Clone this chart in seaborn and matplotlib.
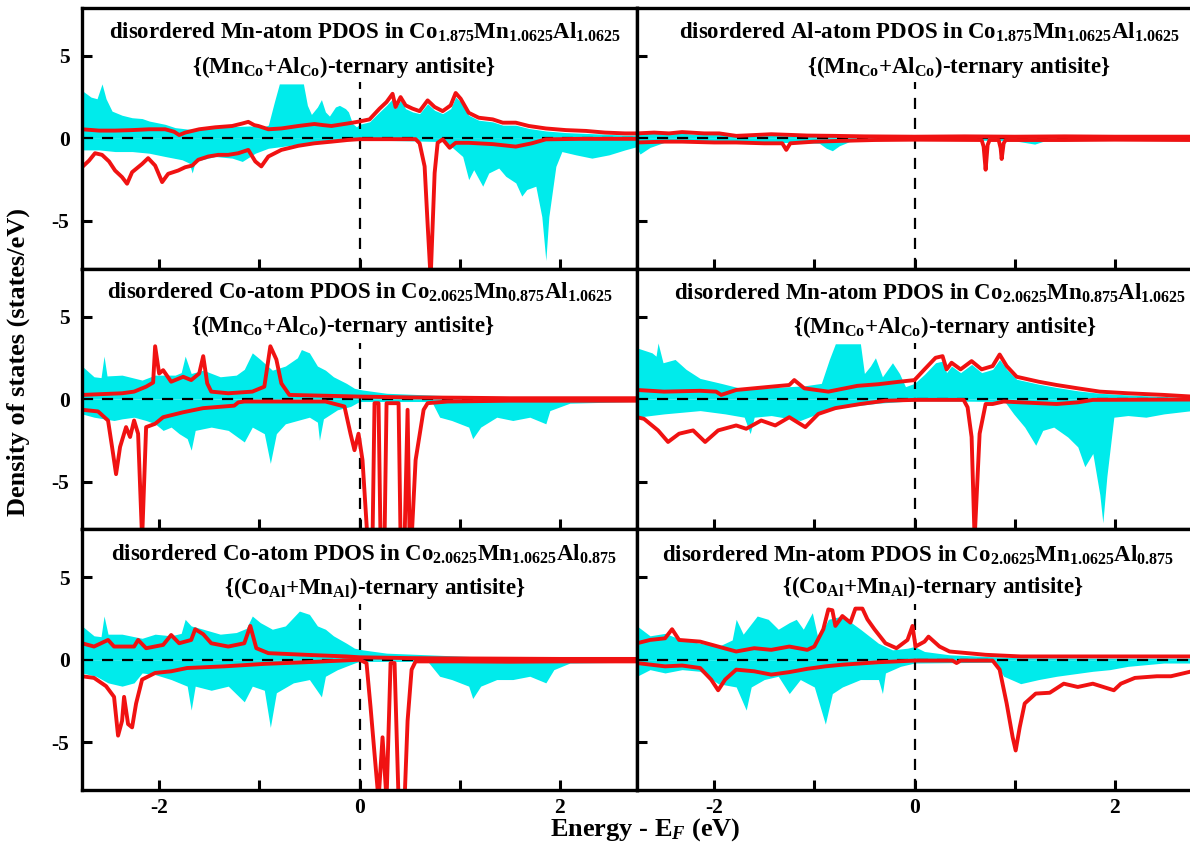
import numpy as np
import pandas as pd
import matplotlib
matplotlib.use("Agg")
import matplotlib.pyplot as plt
import seaborn as sns

# ---------------- data (energy eV, DOS states/eV) ----------------
# Panel A: Mn-atom in Co1.875Mn1.0625Al1.0625
A_cyan_up = [(-2.77,2.9),(-2.68,2.5),(-2.62,2.4),(-2.57,3.3),(-2.53,2.4),(-2.47,1.65),(-2.37,1.4),(-2.27,1.25),(-2.17,1.2),(-2.10,1.05),(-1.94,0.85),(-1.84,0.65),(-1.7,0.55),(-1.5,0.6),(-1.3,0.7),(-1.1,0.75),(-0.95,0.7),(-0.91,0.8),(-0.85,2.2),(-0.8,3.3),(-0.56,3.3),(-0.52,2.0),(-0.48,1.45),(-0.42,1.9),(-0.38,2.35),(-0.34,1.6),(-0.3,1.35),(-0.24,1.9),(-0.2,2.0),(-0.14,1.8),(-0.11,1.6),(-0.07,0.9),(-0.03,0.7),(0.0,0.85),(0.1,1.0),(0.2,1.6),(0.27,2.0),(0.33,2.4),(0.36,1.8),(0.41,2.3),(0.46,1.8),(0.53,1.6),(0.6,1.5),(0.68,2.1),(0.75,1.7),(0.83,1.5),(0.91,1.8),(0.96,2.5),(1.01,2.2),(1.09,1.4),(1.19,1.1),(1.33,1.0),(1.43,0.8),(1.56,0.8),(1.69,0.6),(1.86,0.45),(2.06,0.35),(2.26,0.3),(2.45,0.25),(2.65,0.2),(2.77,0.2)]
A_cyan_dn = [(-2.77,-0.7),(-2.6,-0.7),(-2.44,-0.8),(-2.27,-0.8),(-2.1,-0.9),(-1.94,-1.1),(-1.77,-1.3),(-1.7,-1.5),(-1.67,-2.1),(-1.64,-1.4),(-1.44,-1.1),(-1.27,-1.2),(-1.17,-1.4),(-1.04,-0.9),(-0.91,-0.6),(-0.78,-0.5),(-0.61,-0.35),(-0.45,-0.28),(-0.2,-0.1),(0.0,-0.1),(0.5,-0.15),(0.85,-0.2),(0.93,-0.57),(1.03,-1.1),(1.09,-2.5),(1.14,-1.9),(1.23,-2.9),(1.29,-2.1),(1.39,-1.8),(1.46,-2.3),(1.56,-2.7),(1.62,-3.5),(1.67,-3.1),(1.76,-2.9),(1.82,-4.75),(1.86,-7.4),(1.89,-4.75),(1.96,-1.7),(2.02,-0.8),(2.16,-1.0),(2.32,-1.2),(2.49,-1.0),(2.65,-0.7),(2.77,-0.5)]
A_red_up = [(-2.77,0.55),(-2.6,0.47),(-2.44,0.47),(-2.27,0.5),(-2.1,0.55),(-1.94,0.55),(-1.85,0.4),(-1.8,0.2),(-1.74,0.35),(-1.6,0.55),(-1.44,0.67),(-1.27,0.75),(-1.17,0.9),(-1.11,1.0),(-1.05,0.8),(-1.01,0.75),(-0.91,0.55),(-0.78,0.6),(-0.61,0.75),(-0.45,0.87),(-0.36,0.8),(-0.28,0.75),(-0.12,0.9),(-0.02,1.0),(0.1,1.15),(0.2,1.8),(0.27,2.2),(0.33,2.7),(0.36,1.9),(0.41,2.5),(0.46,2.0),(0.53,1.8),(0.6,1.65),(0.68,2.3),(0.75,1.9),(0.83,1.65),(0.91,2.0),(0.96,2.75),(1.01,2.4),(1.09,1.55),(1.19,1.25),(1.33,1.15),(1.43,0.95),(1.56,0.95),(1.69,0.75),(1.86,0.6),(2.06,0.5),(2.26,0.45),(2.45,0.35),(2.65,0.3),(2.77,0.3)]
A_red_dn = [(-2.77,-1.75),(-2.70,-1.35),(-2.64,-0.9),(-2.57,-1.0),(-2.50,-1.4),(-2.44,-1.95),(-2.37,-2.35),(-2.32,-2.75),(-2.27,-2.05),(-2.17,-1.55),(-2.11,-1.2),(-2.04,-1.65),(-1.97,-2.65),(-1.91,-2.15),(-1.81,-1.95),(-1.74,-1.75),(-1.67,-1.65),(-1.61,-1.3),(-1.51,-1.1),(-1.41,-1.0),(-1.31,-1.0),(-1.21,-0.9),(-1.11,-0.7),(-1.04,-1.4),(-0.98,-1.7),(-0.91,-1.1),(-0.78,-0.7),(-0.61,-0.45),(-0.45,-0.3),(-0.28,-0.2),(-0.12,-0.1),(0.0,-0.05),(0.56,-0.05),(0.6,-0.3),(0.65,-1.7),(0.68,-5.2),(0.71,-8.5),(0.75,-2.1),(0.78,-0.27),(0.83,-0.06),(0.9,-0.57),(0.96,-0.27),(1.09,-0.27),(1.33,-0.35),(1.56,-0.5),(1.72,-0.3),(1.86,-0.06),(2.2,-0.03),(2.77,-0.03)]

# Panel B: Al-atom in Co1.875Mn1.0625Al1.0625
B_cyan_up = [(-2.77,0.35),(-2.6,0.3),(-2.4,0.35),(-2.2,0.25),(-2.0,0.3),(-1.8,0.2),(-1.5,0.2),(-1.2,0.15),(-0.9,0.15),(-0.6,0.15),(-0.3,0.12),(0.0,0.1),(0.5,0.1),(1.0,0.12),(1.5,0.12),(2.0,0.1),(2.5,0.12),(2.77,0.15)]
B_cyan_dn = [(-2.77,-0.6),(-2.74,-0.95),(-2.64,-0.55),(-2.5,-0.25),(-2.2,-0.2),(-1.9,-0.2),(-1.5,-0.25),(-1.2,-0.25),(-0.95,-0.3),(-0.88,-0.6),(-0.82,-0.75),(-0.75,-0.45),(-0.65,-0.2),(-0.3,-0.12),(0.0,-0.1),(0.5,-0.1),(1.0,-0.15),(1.2,-0.35),(1.3,-0.15),(2.0,-0.12),(2.77,-0.15)]
B_red_up = [(-2.77,0.3),(-2.6,0.35),(-2.45,0.3),(-2.32,0.38),(-2.1,0.3),(-1.95,0.3),(-1.78,0.15),(-1.6,0.2),(-1.43,0.25),(-1.2,0.2),(-1.07,0.17),(-0.8,0.15),(-0.5,0.12),(0.0,0.1),(0.5,0.12),(1.0,0.1),(1.5,0.12),(2.0,0.1),(2.77,0.1)]
B_red_dn = [(-2.77,-0.25),(-2.5,-0.2),(-2.32,-0.2),(-2.0,-0.25),(-1.78,-0.25),(-1.5,-0.3),(-1.32,-0.3),(-1.28,-0.7),(-1.24,-0.3),(-1.0,-0.2),(-0.72,-0.15),(-0.4,-0.1),(0.0,-0.08),(0.67,-0.1),(0.69,-0.5),(0.71,-1.9),(0.73,-0.4),(0.75,-0.1),(0.84,-0.1),(0.86,-0.6),(0.87,-1.25),(0.89,-0.3),(0.91,-0.1),(1.5,-0.1),(2.0,-0.08),(2.77,-0.1)]

# Panel C: Co-atom in Co2.0625Mn0.875Al1.0625
C_cyan_up = [(-2.77,2.0),(-2.65,1.35),(-2.58,1.3),(-2.55,2.6),(-2.52,1.4),(-2.37,1.45),(-2.17,1.15),(-2.04,1.45),(-1.84,1.45),(-1.78,1.6),(-1.74,2.6),(-1.68,1.55),(-1.56,1.75),(-1.39,1.35),(-1.23,1.45),(-1.15,1.8),(-1.07,2.8),(-0.99,2.4),(-0.87,1.75),(-0.74,2.0),(-0.62,2.5),(-0.58,3.0),(-0.5,2.8),(-0.42,2.0),(-0.34,1.75),(-0.26,1.35),(-0.13,0.95),(-0.05,0.65),(0.03,0.55),(0.27,0.35),(0.68,0.25),(1.09,0.15),(1.6,0.1),(2.2,0.1),(2.77,0.1)]
C_cyan_dn = [(-2.77,-0.9),(-2.65,-1.1),(-2.45,-1.3),(-2.37,-1.2),(-2.25,-1.1),(-2.13,-1.3),(-2.04,-1.5),(-1.96,-1.9),(-1.88,-1.7),(-1.8,-2.1),(-1.72,-2.4),(-1.68,-3.1),(-1.64,-1.9),(-1.48,-1.7),(-1.31,-1.9),(-1.15,-2.6),(-1.07,-1.7),(-0.95,-2.1),(-0.89,-3.9),(-0.83,-2.1),(-0.74,-1.5),(-0.62,-1.3),(-0.5,-1.1),(-0.42,-1.4),(-0.4,-2.5),(-0.36,-1.2),(-0.22,-0.65),(-0.09,-0.45),(0.0,-0.15),(0.72,-0.15),(0.8,-1.1),(0.92,-1.3),(1.09,-1.7),(1.13,-2.4),(1.21,-1.7),(1.37,-1.1),(1.53,-1.3),(1.7,-1.1),(1.86,-1.5),(1.9,-0.7),(2.1,-0.25),(2.77,-0.15)]
C_red_up = [(-2.77,0.25),(-2.37,0.35),(-2.25,0.45),(-2.13,0.75),(-2.06,1.0),(-2.04,3.2),(-2.0,1.55),(-1.96,1.75),(-1.88,1.05),(-1.76,1.35),(-1.68,1.15),(-1.6,1.55),(-1.56,2.6),(-1.52,0.95),(-1.48,0.45),(-1.31,0.35),(-1.07,0.45),(-0.95,0.75),(-0.89,3.2),(-0.83,2.4),(-0.78,0.95),(-0.7,0.25),(-0.34,0.2),(0.0,0.15),(0.5,0.1),(1.0,0.08),(1.5,0.05),(2.0,0.05),(2.77,0.05)]
C_red_dn = [(-2.77,-0.65),(-2.61,-0.75),(-2.51,-1.3),(-2.47,-2.9),(-2.43,-4.55),(-2.39,-2.9),(-2.33,-1.7),(-2.29,-2.3),(-2.25,-1.3),(-2.21,-2.1),(-2.17,-8.5),(-2.13,-1.7),(-2.04,-1.5),(-1.96,-1.1),(-1.76,-0.8),(-1.56,-0.55),(-1.25,-0.4),(-1.21,-0.2),(-1.15,-0.15),(-0.34,-0.15),(-0.15,-0.45),(-0.09,-2.1),(-0.05,-3.1),(-0.01,-2.1),(0.03,-3.7),(0.08,-8.5),(0.13,-8.5),(0.15,-0.25),(0.19,-0.25),(0.21,-8.5),(0.25,-8.5),(0.27,-0.25),(0.39,-0.25),(0.41,-8.5),(0.45,-8.5),(0.48,-0.65),(0.5,-8.5),(0.52,-8.5),(0.56,-3.7),(0.64,-0.65),(0.68,-0.25),(0.88,-0.15),(1.5,-0.1),(2.0,-0.1),(2.77,-0.1)]

# Panel D: Mn-atom in Co2.0625Mn0.875Al1.0625
D_cyan_up = [(-2.77,3.1),(-2.62,2.8),(-2.58,2.6),(-2.56,3.4),(-2.51,2.2),(-2.39,2.4),(-2.28,1.8),(-2.14,1.25),(-1.93,0.95),(-1.7,0.6),(-1.4,0.7),(-1.1,0.8),(-0.93,0.95),(-0.85,2.4),(-0.79,3.35),(-0.54,3.35),(-0.5,1.55),(-0.44,2.0),(-0.39,2.5),(-0.32,1.35),(-0.22,2.2),(-0.15,1.55),(-0.09,0.75),(0.0,0.95),(0.1,1.5),(0.21,2.2),(0.28,2.3),(0.32,1.6),(0.37,2.0),(0.46,1.6),(0.57,2.1),(0.67,1.6),(0.78,1.8),(0.85,2.4),(0.92,1.8),(1.02,1.2),(1.24,0.9),(1.42,0.7),(1.63,0.5),(1.85,0.35),(2.13,0.25),(2.49,0.15),(2.77,0.1)]
D_cyan_dn = [(-2.77,-1.1),(-2.5,-0.9),(-2.14,-0.7),(-1.89,-0.9),(-1.7,-1.1),(-1.64,-2.1),(-1.6,-1.1),(-1.43,-1.0),(-1.14,-1.3),(-0.93,-0.8),(-0.72,-0.5),(-0.36,-0.25),(0.0,-0.1),(0.9,-0.15),(0.99,-0.9),(1.1,-1.7),(1.21,-2.8),(1.28,-1.9),(1.39,-1.7),(1.53,-2.3),(1.63,-2.9),(1.7,-4.1),(1.78,-3.3),(1.85,-5.8),(1.88,-7.5),(1.92,-4.7),(1.99,-1.1),(2.13,-1.0),(2.31,-1.1),(2.49,-0.9),(2.77,-0.7)]
D_red_up = [(-2.77,0.55),(-2.5,0.45),(-2.14,0.5),(-1.98,0.45),(-1.93,0.25),(-1.78,0.55),(-1.43,0.75),(-1.25,0.85),(-1.2,1.15),(-1.1,0.65),(-0.86,0.45),(-0.57,0.8),(-0.36,0.9),(-0.15,1.05),(0.0,1.15),(0.1,1.8),(0.21,2.5),(0.28,2.6),(0.32,1.8),(0.37,2.2),(0.46,1.8),(0.57,2.3),(0.67,1.8),(0.78,2.0),(0.85,2.7),(0.92,2.0),(1.02,1.35),(1.24,1.05),(1.42,0.85),(1.63,0.65),(1.85,0.45),(2.13,0.35),(2.49,0.25),(2.77,0.15)]
D_red_dn = [(-2.77,-1.1),(-2.7,-1.2),(-2.56,-1.9),(-2.46,-2.6),(-2.35,-2.1),(-2.21,-1.9),(-2.09,-2.6),(-1.96,-1.9),(-1.78,-1.6),(-1.68,-1.8),(-1.53,-1.3),(-1.39,-1.6),(-1.25,-1.1),(-1.09,-1.7),(-0.96,-0.9),(-0.79,-0.55),(-0.54,-0.3),(-0.29,-0.1),(0.0,-0.05),(0.49,-0.05),(0.53,-0.5),(0.57,-2.3),(0.6,-8.5),(0.65,-2.1),(0.71,-0.3),(0.78,-0.3),(0.89,-0.15),(1.06,-0.2),(1.42,-0.3),(1.63,-0.2),(1.78,-0.05),(2.77,-0.03)]

# Panel E: Co-atom in Co2.0625Mn1.0625Al0.875
E_cyan_up = [(-2.77,2.05),(-2.65,1.45),(-2.58,1.4),(-2.55,2.65),(-2.51,1.55),(-2.37,1.55),(-2.17,1.3),(-2.04,1.55),(-1.88,1.45),(-1.78,1.6),(-1.74,2.45),(-1.68,2.05),(-1.56,1.85),(-1.39,1.55),(-1.23,1.65),(-1.13,1.9),(-1.07,2.65),(-0.99,2.25),(-0.87,1.85),(-0.74,2.05),(-0.6,2.95),(-0.5,2.75),(-0.42,2.05),(-0.34,1.85),(-0.26,1.45),(-0.13,1.0),(-0.05,0.7),(0.03,0.6),(0.27,0.4),(0.68,0.3),(1.09,0.2),(1.6,0.12),(2.2,0.1),(2.77,0.1)]
E_cyan_dn = [(-2.77,-0.8),(-2.63,-1.0),(-2.51,-1.4),(-2.37,-1.6),(-2.25,-1.4),(-2.17,-0.8),(-2.04,-0.9),(-1.88,-1.2),(-1.72,-1.6),(-1.68,-3.05),(-1.64,-1.6),(-1.48,-1.85),(-1.31,-1.6),(-1.15,-2.55),(-1.07,-1.6),(-0.95,-1.85),(-0.89,-4.1),(-0.83,-2.0),(-0.66,-1.4),(-0.5,-1.2),(-0.38,-2.25),(-0.34,-1.0),(-0.22,-0.6),(-0.05,-0.2),(0.0,-0.1),(0.68,-0.1),(0.8,-1.0),(0.92,-1.2),(1.09,-1.6),(1.13,-2.35),(1.21,-1.6),(1.37,-1.2),(1.53,-1.2),(1.7,-1.0),(1.86,-1.4),(1.94,-0.6),(2.1,-0.2),(2.77,-0.15)]
E_red_up = [(-2.77,1.0),(-2.65,0.8),(-2.51,1.2),(-2.45,0.8),(-2.25,0.8),(-2.21,1.2),(-2.13,0.7),(-1.96,0.9),(-1.88,1.5),(-1.8,1.0),(-1.68,1.2),(-1.64,1.85),(-1.56,1.55),(-1.48,1.0),(-1.31,0.8),(-1.15,1.0),(-1.09,2.05),(-1.03,0.7),(-0.91,0.4),(-0.54,0.3),(-0.13,0.2),(0.0,0.15),(0.5,0.1),(1.0,0.08),(2.0,0.05),(2.77,0.05)]
E_red_dn = [(-2.77,-1.0),(-2.65,-1.1),(-2.53,-1.6),(-2.45,-2.25),(-2.41,-4.6),(-2.37,-3.7),(-2.35,-2.25),(-2.31,-3.9),(-2.27,-4.1),(-2.23,-2.65),(-2.17,-1.2),(-2.04,-0.8),(-1.88,-0.7),(-1.72,-0.5),(-1.35,-0.4),(-0.95,-0.25),(-0.54,-0.15),(0.0,0.0),(0.07,-0.2),(0.11,-2.85),(0.15,-5.7),(0.19,-8.5),(0.23,-4.7),(0.27,-8.5),(0.31,-0.2),(0.35,-0.2),(0.39,-8.5),(0.45,-8.5),(0.48,-3.7),(0.52,-0.6),(0.56,-0.1),(1.0,-0.1),(1.5,-0.12),(2.0,-0.1),(2.77,-0.1)]

# Panel F: Mn-atom in Co2.0625Mn1.0625Al0.875
F_cyan_up = [(-2.77,2.05),(-2.64,1.45),(-2.49,1.6),(-2.32,1.2),(-2.14,1.0),(-1.96,0.8),(-1.82,1.2),(-1.78,2.45),(-1.71,1.55),(-1.57,2.65),(-1.46,2.45),(-1.36,1.85),(-1.25,2.25),(-1.18,2.45),(-1.11,1.85),(-1.02,2.85),(-0.96,1.2),(-0.86,2.45),(-0.72,2.65),(-0.54,1.85),(-0.36,1.0),(-0.22,0.6),(-0.07,0.7),(0.0,0.8),(0.1,0.5),(0.35,0.3),(0.71,0.2),(1.06,0.12),(2.0,0.1),(2.77,0.1)]
F_cyan_dn = [(-2.77,-1.0),(-2.64,-0.6),(-2.49,-0.8),(-2.32,-0.6),(-2.14,-0.7),(-1.96,-1.45),(-1.78,-1.65),(-1.68,-3.05),(-1.63,-1.65),(-1.5,-1.2),(-1.36,-1.0),(-1.25,-2.05),(-1.14,-1.2),(-1.0,-1.65),(-0.89,-3.9),(-0.82,-2.05),(-0.72,-1.65),(-0.54,-1.2),(-0.36,-1.2),(-0.32,-2.05),(-0.29,-0.8),(-0.14,-0.4),(0.0,-0.2),(0.8,-0.15),(0.89,-1.0),(1.06,-1.45),(1.24,-1.2),(1.42,-1.0),(1.78,-0.7),(1.95,-0.6),(2.13,-0.4),(2.49,-0.2),(2.77,-0.2)]
F_red_up = [(-2.77,1.0),(-2.64,1.2),(-2.49,1.3),(-2.42,1.85),(-2.35,1.2),(-2.14,1.1),(-1.96,0.8),(-1.78,0.5),(-1.6,0.7),(-1.43,0.6),(-1.25,0.8),(-1.07,0.6),(-1.0,0.8),(-0.91,1.85),(-0.86,3.05),(-0.82,3.0),(-0.79,2.05),(-0.72,2.65),(-0.64,2.25),(-0.59,3.1),(-0.52,3.1),(-0.47,2.45),(-0.4,1.85),(-0.29,1.0),(-0.18,0.7),(-0.07,1.2),(-0.02,2.05),(0.01,0.8),(0.1,1.1),(0.14,1.4),(0.25,0.8),(0.35,0.5),(0.71,0.3),(1.06,0.2),(1.78,0.2),(2.77,0.2)]
F_red_dn = [(-2.77,-0.2),(-2.49,-0.4),(-2.32,-0.35),(-2.14,-0.5),(-2.03,-1.2),(-1.96,-1.85),(-1.89,-1.2),(-1.78,-0.6),(-1.6,-0.7),(-1.43,-0.9),(-1.25,-0.75),(-1.07,-0.55),(-0.89,-0.4),(-0.72,-0.3),(-0.36,-0.15),(0.0,-0.05),(0.38,-0.05),(0.42,-0.2),(0.46,-0.05),(0.78,-0.05),(0.85,-0.6),(0.92,-2.65),(0.98,-4.7),(1.01,-5.5),(1.05,-4.1),(1.1,-2.65),(1.21,-2.05),(1.35,-2.0),(1.49,-1.45),(1.63,-1.65),(1.78,-1.45),(1.99,-1.85),(2.06,-1.45),(2.2,-1.1),(2.42,-1.0),(2.56,-1.0),(2.77,-0.7)]

titles_line1 = [
    r"disordered Mn-atom PDOS in Co$_{1.875}$Mn$_{1.0625}$Al$_{1.0625}$",
    r"disordered Al-atom PDOS in Co$_{1.875}$Mn$_{1.0625}$Al$_{1.0625}$",
    r"disordered Co-atom PDOS in Co$_{2.0625}$Mn$_{0.875}$Al$_{1.0625}$",
    r"disordered Mn-atom PDOS in Co$_{2.0625}$Mn$_{0.875}$Al$_{1.0625}$",
    r"disordered Co-atom PDOS in Co$_{2.0625}$Mn$_{1.0625}$Al$_{0.875}$",
    r"disordered Mn-atom PDOS in Co$_{2.0625}$Mn$_{1.0625}$Al$_{0.875}$",
]
titles_line2 = [
    r"{(Mn$_{\rm Co}$+Al$_{\rm Co}$)-ternary antisite}",
    r"{(Mn$_{\rm Co}$+Al$_{\rm Co}$)-ternary antisite}",
    r"{(Mn$_{\rm Co}$+Al$_{\rm Co}$)-ternary antisite}",
    r"{(Mn$_{\rm Co}$+Al$_{\rm Co}$)-ternary antisite}",
    r"{(Co$_{\rm Al}$+Mn$_{\rm Al}$)-ternary antisite}",
    r"{(Co$_{\rm Al}$+Mn$_{\rm Al}$)-ternary antisite}",
]
x_ticks = [-2, -1, 0, 1, 2]
x_tick_labels = ["-2", "", "0", "", "2"]
y_ticks = [-5, 0, 5]
y_tick_labels = ["-5", "0", "5"]

panels = [
    (A_cyan_up, A_cyan_dn, A_red_up, A_red_dn),
    (B_cyan_up, B_cyan_dn, B_red_up, B_red_dn),
    (C_cyan_up, C_cyan_dn, C_red_up, C_red_dn),
    (D_cyan_up, D_cyan_dn, D_red_up, D_red_dn),
    (E_cyan_up, E_cyan_dn, E_red_up, E_red_dn),
    (F_cyan_up, F_cyan_dn, F_red_up, F_red_dn),
]

# ---------------- style ----------------
sns.set_style("ticks")
plt.rcParams["font.family"] = ["Liberation Serif", "DejaVu Serif"]
plt.rcParams["font.weight"] = "bold"
plt.rcParams["mathtext.fontset"] = "custom"
plt.rcParams["mathtext.rm"] = "Liberation Serif:bold"
plt.rcParams["mathtext.bf"] = "Liberation Serif:bold"
plt.rcParams["mathtext.it"] = "Liberation Serif:bold:italic"
plt.rcParams["mathtext.default"] = "rm"
plt.rcParams["axes.unicode_minus"] = False
plt.rcParams["text.color"] = "black"
plt.rcParams["axes.edgecolor"] = "black"
plt.rcParams["xtick.color"] = "black"
plt.rcParams["ytick.color"] = "black"

CYAN = "#00EBEB"
RED = "#F01212"
XLIM = (-2.77, 2.77)
YLIM = (-7.9, 7.9)
VTOP = 3.4

fig = plt.figure(figsize=(11.9, 8.59), dpi=100)
W, H = 1190.0, 859.0
col_left = [82 / W, 637 / W]
col_w = 555 / W
row_h = 260.7 / H
row_bottom = [(859 - 8 - 260.7 * (r + 1)) / H for r in range(3)]

t1_pos = [(0.51, 0.905), (0.526, 0.905), (0.50, 0.91), (0.528, 0.905), (0.508, 0.905), (0.506, 0.9)]
t2_pos = [(0.472, 0.775), (0.58, 0.775), (0.47, 0.78), (0.555, 0.778), (0.528, 0.775), (0.533, 0.778)]

for i, (cu, cd, ru, rd) in enumerate(panels):
    r, c = divmod(i, 2)
    ax = fig.add_axes([col_left[c], row_bottom[r], col_w, row_h])
    for series in (cu, cd):
        df = pd.DataFrame(series, columns=["E", "dos"])
        ax.fill_between(df["E"], 0, df["dos"], color=CYAN, lw=0, zorder=1)
    ax.axhline(0, color="black", ls=(0, (5, 4)), lw=1.6, zorder=2)
    ax.axvline(0, ymin=0, ymax=(VTOP - YLIM[0]) / (YLIM[1] - YLIM[0]),
               color="black", ls=(0, (5, 4)), lw=1.6, zorder=2)
    for series in (ru, rd):
        df = pd.DataFrame(series, columns=["E", "dos"])
        sns.lineplot(data=df, x="E", y="dos", ax=ax, color=RED, lw=2.8,
                     sort=False, estimator=None, zorder=3, legend=False)
    ax.set_xlim(*XLIM)
    ax.set_ylim(*YLIM)
    ax.set_xlabel("")
    ax.set_ylabel("")
    ax.set_xticks(x_ticks)
    ax.set_yticks(y_ticks)
    if r == 2:
        ax.set_xticklabels(x_tick_labels)
    else:
        ax.set_xticklabels([])
    if c == 0:
        ax.set_yticklabels(y_tick_labels)
    else:
        ax.set_yticklabels([])
    ax.tick_params(direction="in", length=7, width=2.2, labelsize=15.5, pad=6,
                   top=False, right=False, colors="black")
    ax.tick_params(axis="y", pad=9)
    for lab in ax.get_xticklabels() + ax.get_yticklabels():
        lab.set_fontweight("bold")
    for sp in ax.spines.values():
        sp.set_linewidth(2.4)
        sp.set_color("black")
        sp.set_zorder(5)
    ax.text(*t1_pos[i], titles_line1[i], transform=ax.transAxes, ha="center",
            va="center", fontsize=16.5, fontweight="bold", zorder=6)
    ax.text(*t2_pos[i], titles_line2[i], transform=ax.transAxes, ha="center",
            va="center", fontsize=16.5, fontweight="bold", zorder=6)

fig.text(18 / W, 1 - 362 / H, "Density of states (states/eV)", rotation=90,
         ha="center", va="center", fontsize=19, fontweight="bold")
fig.text(645 / W, 1 - 830 / H, r"Energy - E$_{\mathit{F}}$ (eV)",
         ha="center", va="center", fontsize=19, fontweight="bold")

fig.savefig("out.png", dpi=100)
